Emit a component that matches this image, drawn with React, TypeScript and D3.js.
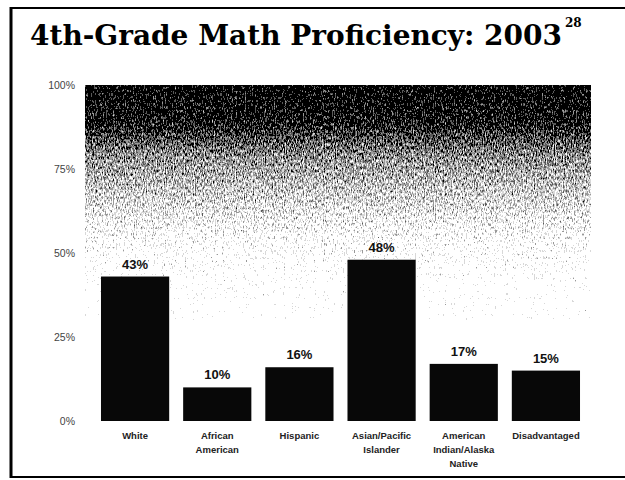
import React, { useEffect, useRef } from 'react';
import * as d3 from 'd3';

const categories = ['White', 'African American', 'Hispanic', 'Asian/Pacific Islander', 'American Indian/Alaska Native', 'Disadvantaged'];
const categoryLines = [['White'], ['African', 'American'], ['Hispanic'], ['Asian/Pacific', 'Islander'], ['American', 'Indian/Alaska', 'Native'], ['Disadvantaged']];
const proficiency = [43, 10, 16, 48, 17, 15];
const yTicks = [0, 25, 50, 75, 100];

const W = 625;
const H = 480;

const App = () => {
  const ref = useRef<SVGSVGElement | null>(null);

  useEffect(() => {
    const svg = d3.select(ref.current);
    svg.selectAll('*').remove();

    const x = d3.scaleBand<string>().domain(categories).range([94, 587]).paddingInner(0.17).paddingOuter(0.085);
    const y = d3.scaleLinear().domain([0, 100]).range([421, 85]);

    const defs = svg.append('defs');

    // fondo escaneado: degradado oscuro arriba + ruido
    const grad = defs.append('linearGradient').attr('id', 'fade').attr('x1', 0).attr('y1', 0).attr('x2', 0).attr('y2', 1);
    [[0, 0.0], [0.16, 0.08], [0.3, 0.38], [0.5, 0.62], [0.68, 0.84], [0.85, 0.96], [1, 1]].forEach(([o, v]) => {
      const c = Math.round(v * 255);
      grad.append('stop').attr('offset', o).attr('stop-color', `rgb(${c},${c},${c})`);
    });

    const f = defs.append('filter').attr('id', 'dither')
      .attr('x', 0).attr('y', 0).attr('width', 1).attr('height', 1)
      .attr('color-interpolation-filters', 'sRGB');
    f.append('feTurbulence').attr('type', 'fractalNoise').attr('baseFrequency', '0.9 0.3')
      .attr('numOctaves', 3).attr('seed', 11).attr('result', 'noise');
    f.append('feColorMatrix').attr('in', 'noise').attr('type', 'matrix')
      .attr('values', '1 0 0 0 0  1 0 0 0 0  1 0 0 0 0  0 0 0 0 1').attr('result', 'gray');
    f.append('feComposite').attr('in', 'SourceGraphic').attr('in2', 'gray').attr('operator', 'arithmetic')
      .attr('k1', 0).attr('k2', 1).attr('k3', 1.3).attr('k4', -0.65).attr('result', 'mix');
    const ct = f.append('feComponentTransfer').attr('in', 'mix').attr('result', 'dots');
    ['feFuncR', 'feFuncG', 'feFuncB'].forEach(fn => ct.append(fn).attr('type', 'discrete').attr('tableValues', '0 0.35 0.6 0.85 1 1'));
    f.append('feComposite').attr('in', 'dots').attr('in2', 'SourceGraphic').attr('operator', 'in');

    svg.append('rect').attr('width', W).attr('height', H).attr('fill', '#fff');

    const top = Math.round(y(100));
    const bottom = Math.round(y(30));
    svg.append('rect')
      .attr('x', 85).attr('y', top)
      .attr('width', 506).attr('height', bottom - top)
      .attr('fill', 'url(#fade)')
      .attr('filter', 'url(#dither)');

    // marco de la diapositiva
    svg.append('line').attr('x1', 11).attr('x2', 11).attr('y1', 7).attr('y2', 478).attr('stroke', '#000').attr('stroke-width', 3);
    svg.append('line').attr('x1', 10).attr('x2', W).attr('y1', 8).attr('y2', 8).attr('stroke', '#000').attr('stroke-width', 2);
    svg.append('line').attr('x1', 10).attr('x2', W).attr('y1', 477).attr('y2', 477).attr('stroke', '#000').attr('stroke-width', 2);

    // título: ajustar el tamaño para que ocupe ~532px
    const title = svg.append('text')
      .attr('x', 30).attr('y', 45)
      .attr('font-family', '"DejaVu Serif", serif')
      .attr('font-weight', 'bold')
      .attr('font-size', 29)
      .text('4th-Grade Math Proficiency: 2003');
    const len = (title.node() as SVGTextElement).getComputedTextLength();
    const fs = Math.min(29, 29 * 532 / len);
    title.attr('font-size', fs);
    const tEnd = 30 + (title.node() as SVGTextElement).getComputedTextLength();
    svg.append('text')
      .attr('x', tEnd + 3).attr('y', 27)
      .attr('font-family', '"DejaVu Serif", serif')
      .attr('font-weight', 'bold')
      .attr('font-size', 12)
      .text('28');

    // eje y
    svg.append('g')
      .selectAll('text')
      .data(yTicks)
      .enter().append('text')
      .attr('x', 75)
      .attr('y', d => y(d) + 4)
      .attr('text-anchor', 'end')
      .attr('font-family', '"Liberation Sans", Arial, sans-serif')
      .attr('font-size', 10.5)
      .attr('fill', '#444')
      .text(d => `${d}%`);

    // barras
    svg.append('g')
      .selectAll('rect')
      .data(proficiency)
      .enter().append('rect')
      .attr('x', (d, i) => x(categories[i]) as number)
      .attr('y', d => y(d))
      .attr('width', x.bandwidth())
      .attr('height', d => y(0) - y(d))
      .attr('fill', '#080808');

    svg.append('g')
      .selectAll('text')
      .data(proficiency)
      .enter().append('text')
      .attr('x', (d, i) => (x(categories[i]) as number) + x.bandwidth() / 2)
      .attr('y', d => y(d) - 8)
      .attr('text-anchor', 'middle')
      .attr('font-family', '"Liberation Sans", Arial, sans-serif')
      .attr('font-weight', 'bold')
      .attr('font-size', 13)
      .attr('fill', '#111')
      .text(d => `${d}%`);

    // etiquetas de categoría
    const lab = svg.append('g')
      .selectAll('text')
      .data(categories)
      .enter().append('text')
      .attr('x', d => (x(d) as number) + x.bandwidth() / 2)
      .attr('y', 439)
      .attr('text-anchor', 'middle')
      .attr('font-family', '"Liberation Sans", Arial, sans-serif')
      .attr('font-weight', 'bold')
      .attr('font-size', 9.5)
      .attr('fill', '#222');
    lab.each(function (d, i) {
      categoryLines[i].forEach((ln, j) => {
        d3.select(this).append('tspan')
          .attr('x', (x(d) as number) + x.bandwidth() / 2)
          .attr('dy', j === 0 ? 0 : 14)
          .text(ln);
      });
    });
  }, []);

  return (
    <svg ref={ref} width={W} height={H} style={{ position: 'absolute', left: 0, top: 0 }} />
  );
};

export default App;
